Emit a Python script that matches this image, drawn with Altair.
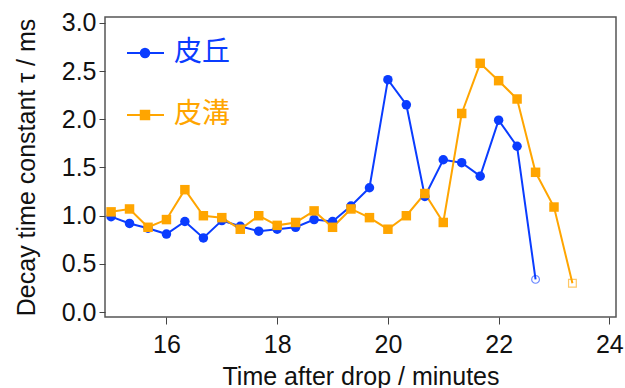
import altair as alt
import pandas as pd

# ---- data ----
time_qiu = [15.0, 15.333, 15.667, 16.0, 16.333, 16.667, 17.0, 17.333, 17.667, 18.0,
            18.333, 18.667, 19.0, 19.333, 19.667, 20.0, 20.333, 20.667, 21.0, 21.333,
            21.667, 22.0, 22.333, 22.667]
tau_qiu = [0.99, 0.92, 0.87, 0.81, 0.94, 0.77, 0.95, 0.89, 0.84, 0.86,
           0.88, 0.96, 0.94, 1.10, 1.29, 2.41, 2.15, 1.20, 1.58, 1.55,
           1.41, 1.99, 1.72, 0.34]

time_gou = [15.0, 15.333, 15.667, 16.0, 16.333, 16.667, 17.0, 17.333, 17.667, 18.0,
            18.333, 18.667, 19.0, 19.333, 19.667, 20.0, 20.333, 20.667, 21.0, 21.333,
            21.667, 22.0, 22.333, 22.667, 23.0, 23.333]
tau_gou = [1.04, 1.07, 0.88, 0.96, 1.27, 1.00, 0.98, 0.86, 1.00, 0.90,
           0.93, 1.05, 0.88, 1.07, 0.98, 0.86, 1.00, 1.23, 0.93, 2.06,
           2.58, 2.40, 2.21, 1.45, 1.09, 0.30]

series_names = ["皮丘", "皮溝"]
series_colors = ["#0a3cff", "#ffa500"]
x_ticks = [16, 18, 20, 22, 24]
y_ticks = [0.0, 0.5, 1.0, 1.5, 2.0, 2.5, 3.0]

rows = []
for name, ts, vs in [(series_names[0], time_qiu, tau_qiu), (series_names[1], time_gou, tau_gou)]:
    for i, (t, v) in enumerate(zip(ts, vs)):
        rows.append({"series": name, "time": t, "tau": v, "last": i == len(ts) - 1, "order": i})
df = pd.DataFrame(rows)

FONT = "Liberation Sans"
W, H = 511, 300

xscale = alt.Scale(domain=[14.89, 24.12], nice=False, zero=False)
yscale = alt.Scale(domain=[-0.05, 3.06], nice=False, zero=False)
cscale = alt.Scale(domain=series_names, range=series_colors)

x_enc = alt.X("time:Q", scale=xscale,
              axis=alt.Axis(values=x_ticks, grid=False, domain=False, tickSize=7,
                            tickColor="#444", labelFont=FONT, labelFontSize=25,
                            labelColor="#111", labelPadding=8,
                            title="Time after drop / minutes", titleFont=FONT,
                            titleFontSize=25, titleFontWeight="normal", titleColor="#111",
                            titleY=67, titleBaseline="alphabetic"))
y_enc = alt.Y("tau:Q", scale=yscale,
              axis=alt.Axis(values=y_ticks, format=".1f", grid=False, domain=False,
                            tickSize=6, tickColor="#444", labelFont=FONT, labelFontSize=25,
                            labelColor="#111", labelPadding=3,
                            title="Decay time constant τ / ms", titleFont=FONT,
                            titleFontSize=25, titleFontWeight="normal", titleColor="#111",
                            titleX=-79, titleY=150, titleBaseline="middle", titleAngle=-90))
color_enc = alt.Color("series:N", scale=cscale, legend=None)
shape_enc = alt.Shape("series:N", scale=alt.Scale(domain=series_names, range=["circle", "square"]), legend=None)

base = alt.Chart(df)

lines = base.mark_line(strokeWidth=2).encode(x=x_enc, y=y_enc, color=color_enc, detail="series:N",
                                             order="order:Q")
pts = base.transform_filter("!datum.last").mark_point(filled=True, size=90, opacity=1).encode(
    x="time:Q", y="tau:Q", color=color_enc, shape=shape_enc)
last_pts = base.transform_filter("datum.last").mark_point(filled=False, size=60, strokeWidth=1.2,
                                                          opacity=0.6).encode(
    x="time:Q", y="tau:Q", color=color_enc, shape=shape_enc)

# legend (drawn inside the plot, top-left)
leg = pd.DataFrame({"series": series_names, "ypix": [36, 98]})
lbase = alt.Chart(leg)
leg_line = lbase.mark_rule(strokeWidth=2).encode(
    x=alt.value(22), x2=alt.value(59), y=alt.Y("ypix:Q", scale=None), color=color_enc)
leg_pt = lbase.mark_point(filled=True, size=110, opacity=1).encode(
    x=alt.value(40), y=alt.Y("ypix:Q", scale=None), color=color_enc, shape=shape_enc)
leg_txt = lbase.mark_text(align="left", baseline="middle", font="Noto Sans CJK SC",
                          fontSize=28, dx=0).encode(
    x=alt.value(69), y=alt.Y("ypix:Q", scale=None), text="series:N", color=color_enc)

chart = alt.layer(lines, pts, last_pts, leg_line, leg_pt, leg_txt).properties(
    width=W, height=H,
    autosize=alt.AutoSizeParams(type="none"),
    padding={"left": 105, "top": 17, "right": 9, "bottom": 71},
    background="white",
).configure_view(stroke="#555", strokeWidth=1.5)

chart.save("out.html", embed_options={"renderer": "svg", "actions": False})
